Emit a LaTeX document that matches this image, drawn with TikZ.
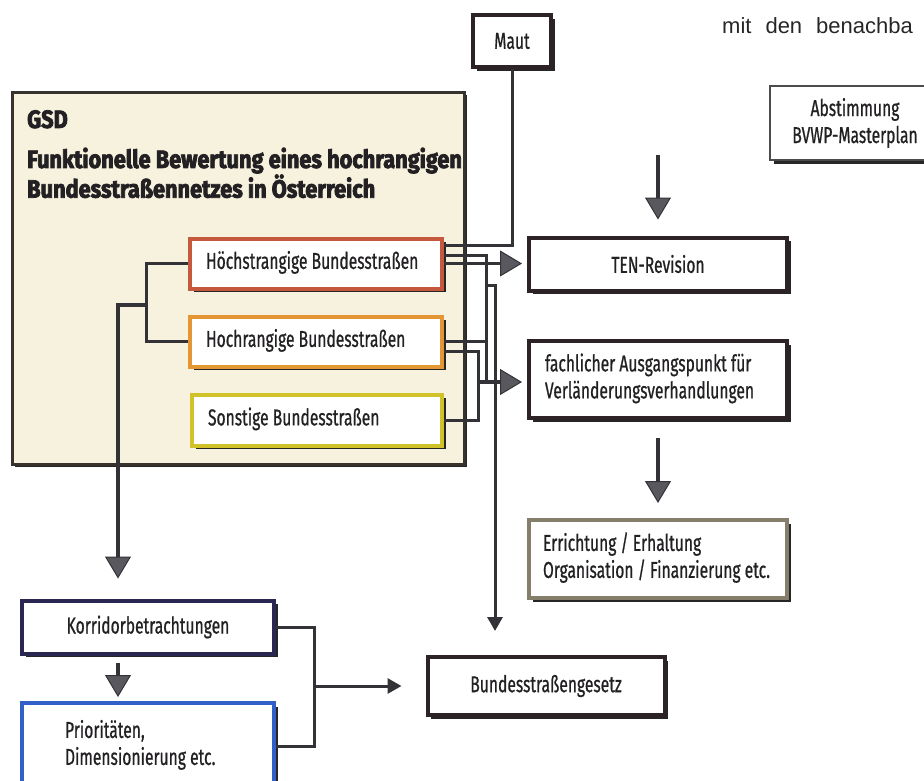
\documentclass[tikz,border=0pt]{standalone}
\usepackage{fontspec}
\setmainfont{Fira Sans}
\newfontfamily\boxfont{Fira Sans}[FakeStretch=0.68, FakeBold=0.7]
\newfontfamily\headfont{Fira Sans}[FakeStretch=0.87, FakeBold=3]
\newfontfamily\pagefont{Liberation Sans}
\usepackage{tikz}
\usetikzlibrary{arrows.meta,shadows}

\definecolor{txt}{RGB}{34,32,34}
\definecolor{linegray}{RGB}{50,50,55}
\definecolor{tipgray}{RGB}{88,88,94}
\definecolor{boxdark}{RGB}{45,35,38}
\definecolor{gsdborder}{RGB}{55,50,45}
\definecolor{gsdfill}{RGB}{247,242,222}
\definecolor{hoechstred}{RGB}{198,88,62}
\definecolor{hochrorange}{RGB}{228,150,52}
\definecolor{sonstyellow}{RGB}{210,194,42}
\definecolor{korrnavy}{RGB}{42,40,82}
\definecolor{prioblue}{RGB}{48,96,200}
\definecolor{errichtgray}{RGB}{132,126,106}

% left aligned block of given width
\newcommand{\leftblock}[2]{\makebox[#1][l]{\begin{tabular}{@{}l@{}}#2\end{tabular}}}

\begin{document}
\begin{tikzpicture}[x=1pt,y=-1pt,
    box/.style={draw=boxdark, fill=white, line width=4pt, text=txt,
      font=\boxfont\fontsize{23}{27}\selectfont,
      drop shadow={shadow xshift=3.5pt, shadow yshift=-3.5pt, fill=black!85, opacity=1},
      inner xsep=16pt, inner ysep=0pt, minimum height=52pt},
    conn/.style={draw=linegray, line width=3pt},
    greyarrow/.style={draw=linegray, line width=3.5pt,
      -{Triangle[length=22pt, width=26pt, fill=tipgray, line width=1pt]}},
    blackarrow/.style={conn, -{Triangle[length=14pt, width=15pt]}}]
\useasboundingbox (0,0) rectangle (924,780);

% text cut off at the page edge
\node[anchor=base west, inner sep=0pt, text=black!85,
  font=\pagefont\fontsize{22}{26}\selectfont] (pagetext) at (722,33)
  {mit\hspace{14pt}den\hspace{14pt}benachba};

\node[box] (maut) at (512,41) [minimum width=78pt] {Maut};
\node[box, draw=black!70, line width=2.5pt, drop shadow={opacity=0}, minimum width=170pt,
  minimum height=74pt, align=center] (abst) at (855,123) {Abstimmung\\BVWP-Masterplan};

% GSD block
\node[draw=gsdborder, fill=gsdfill, line width=3.5pt, minimum width=452pt, minimum height=372pt,
  drop shadow={shadow xshift=2pt, shadow yshift=-2.5pt, fill=black!85, opacity=1}] (gsd) at (238.5,278.5) {};
\node[anchor=north west, align=left, inner sep=0pt, text=txt,
  font=\headfont\bfseries\fontsize{25}{25}\selectfont] (gsdtitle) at (27,110)
  {GSD\\[15pt]Funktionelle Bewertung eines hochrangigen\\Bundesstraßennetzes in Österreich};

\node[box, draw=hoechstred, minimum height=50pt] (hoechst) at (316,263.5) {\leftblock{220pt}{Höchstrangige Bundesstraßen}};
\node[box, draw=hochrorange, minimum height=50pt] (hochr) at (316,341.5) {\leftblock{220pt}{Hochrangige Bundesstraßen}};
\node[box, draw=sonstyellow, minimum height=51pt] (sonst) at (317,420) {\leftblock{218pt}{Sonstige Bundesstraßen}};

\node[box, minimum width=258pt, minimum height=53pt] (ten) at (658,264) {TEN-Revision};
\node[box, minimum height=77pt] (fach) at (658,379.5)
  {\leftblock{226pt}{fachlicher Ausgangspunkt für\\Verländerungsverhandlungen}};
\node[box, draw=errichtgray, inner xsep=14pt, minimum height=78pt] (erricht) at (658,559)
  {\leftblock{230pt}{Errichtung / Erhaltung\\Organisation / Finanzierung etc.}};
\node[box, minimum width=237pt, minimum height=58pt] (gesetz) at (546,686) {Bundesstraßengesetz};

\node[box, draw=korrnavy, minimum width=252pt, minimum height=53pt] (korr) at (148,627) {Korridorbetrachtungen};
\node[box, draw=prioblue, inner xsep=43pt, minimum height=86pt] (prio) at (148,746)
  {\leftblock{166pt}{Prioritäten,\\Dimensionierung etc.}};

% connectors
\coordinate (fork) at (148,305);
\coordinate (knot) at (478,382);
\coordinate (split) at (486,285);
\coordinate (abstarrow) at (658,155);

\draw[conn] (hoechst.west) -- ++(-42,0) |- (hochr.west);
\draw[greyarrow, shorten >=20pt] (fork) -| ([xshift=-30pt]korr.north);
\draw[greyarrow, shorten <=7pt, shorten >=4pt] ([xshift=-30pt]korr.south) -- ([xshift=-30pt]prio.north);
\draw[conn] (korr.east) -- ++(38,0) coordinate (kk) |- (prio.east);
\draw[blackarrow, shorten >=24pt] (kk |- gesetz.west) -- (gesetz.west);

\draw[conn] (maut.south) |- ([yshift=18pt]hoechst.east);
\draw[greyarrow, shorten >=5pt] (hoechst.east) -- (hoechst.east -| ten.west);
\draw[conn] ([yshift=8pt]hoechst.east) -| (split |- knot);
\draw[conn] (hochr.east) -- (hochr.east -| split);
\draw[conn] ([yshift=-10pt]hochr.east) -| (knot);
\draw[conn] (sonst.east) -| (knot);
\draw[greyarrow, shorten >=5pt] (knot) -- (knot -| fach.west);
\draw[blackarrow, shorten >=24pt] (split) -- ++(9,0) coordinate (bus) -- (bus |- gesetz.north);

\draw[greyarrow, shorten >=16pt] (abstarrow) -- (ten.north);
\draw[greyarrow, shorten <=18pt, shorten >=15pt] (fach.south) -- (erricht.north);
\end{tikzpicture}
\end{document}
